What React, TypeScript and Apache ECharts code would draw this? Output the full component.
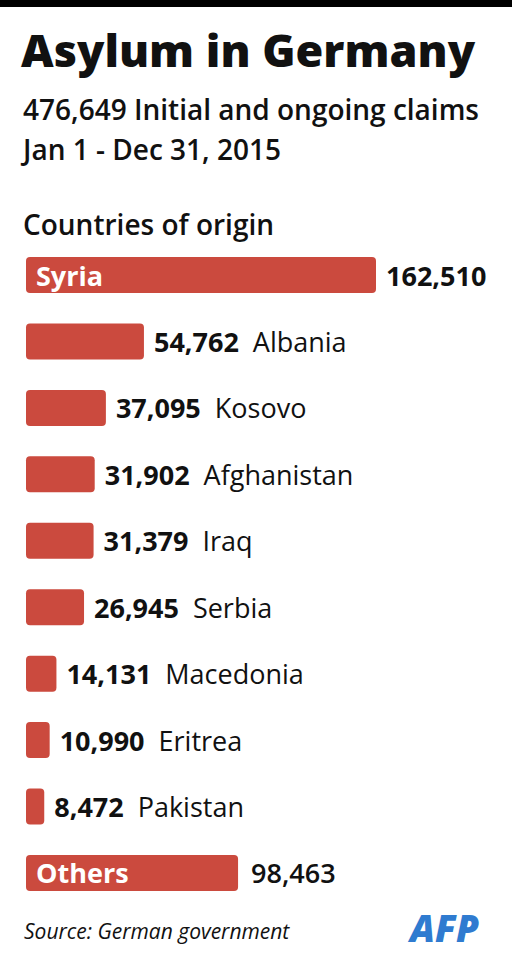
import React, { useEffect, useRef } from "react";
import * as echarts from "echarts";

const countries = ["Syria", "Albania", "Kosovo", "Afghanistan", "Iraq", "Serbia", "Macedonia", "Eritrea", "Pakistan", "Others"];
const claims = [162510, 54762, 37095, 31902, 31379, 26945, 14131, 10990, 8472, 98463];
const insideNamed = ["Syria", "Others"];

const FONT = "Open Sans";
const RED = "#cb4a3e";
const LS = 27;

const fmt = (v: number) => v.toLocaleString("en-US");

export default function App() {
  const ref = useRef<HTMLDivElement>(null);
  useEffect(() => {
    if (!ref.current) return;
    const chart = echarts.init(ref.current, undefined, { renderer: "svg" });
    chart.setOption({
      animation: false,
      backgroundColor: "#ffffff",
      grid: { left: 26, top: 241.8, width: 350, height: 664.4, containLabel: false },
      xAxis: { type: "value", min: 0, max: 162510, show: false },
      yAxis: { type: "category", data: countries, inverse: true, show: false },
      series: [
        {
          type: "bar",
          data: claims,
          barWidth: 36,
          itemStyle: { color: RED, borderRadius: 4 },
          label: {
            show: true,
            position: "right",
            distance: 10,
            formatter: (p: any) => {
              const name = countries[p.dataIndex];
              if (insideNamed.includes(name)) {
                return name === "Syria" ? `{vb|${fmt(p.value)}}` : `{vm|${fmt(p.value)}}`;
              }
              return `{v|${fmt(p.value)}}{n|${name}}`;
            },
            rich: {
              v: { fontFamily: FONT, fontWeight: "bold", fontSize: LS, color: "#111" },
              vb: { fontFamily: FONT, fontWeight: "bold", fontSize: LS, color: "#111" },
              vm: { fontFamily: FONT, fontWeight: 600, fontSize: LS, color: "#111", padding: [0, 0, 0, 3] },
              n: { fontFamily: FONT, fontWeight: "normal", fontSize: LS, color: "#111", padding: [0, 0, 0, 14] },
            },
          },
        },
        {
          type: "bar",
          data: claims,
          barWidth: 36,
          barGap: "-100%",
          silent: true,
          itemStyle: { color: "rgba(0,0,0,0)" },
          label: {
            show: true,
            position: "insideLeft",
            distance: 10,
            formatter: (p: any) => {
              const name = countries[p.dataIndex];
              return insideNamed.includes(name) ? name : "";
            },
            fontFamily: FONT,
            fontWeight: "bold",
            fontSize: LS,
            color: "#ffffff",
          },
        },
      ],
      graphic: [
        { type: "rect", left: 0, top: 0, shape: { width: 512, height: 7 }, style: { fill: "#000" } },
        {
          type: "text", left: 21, top: 27,
          style: { text: "Asylum in Germany", fontFamily: FONT, fontWeight: 800, fontSize: 45, fill: "#111" },
        },
        {
          type: "text", left: 23, top: 95,
          style: { text: "476,649 Initial and ongoing claims", fontFamily: FONT, fontWeight: 600, fontSize: 28, fill: "#111" },
        },
        {
          type: "text", left: 23, top: 135,
          style: { text: "Jan 1 - Dec 31, 2015", fontFamily: FONT, fontWeight: 600, fontSize: 28, fill: "#111" },
        },
        {
          type: "text", left: 23, top: 210,
          style: { text: "Countries of origin", fontFamily: FONT, fontWeight: 600, fontSize: 28, fill: "#111" },
        },
        {
          type: "text", left: 24, top: 920,
          style: { text: "Source: German government", fontFamily: FONT, fontStyle: "italic", fontSize: 21, fill: "#111" },
        },
        {
          type: "text", left: 410, top: 909,
          style: { text: "AFP", fontFamily: FONT, fontStyle: "italic", fontWeight: 800, fontSize: 37, fill: "#2f7bd0" },
        },
      ],
    });
    return () => chart.dispose();
  }, []);
  return (
    <div
      ref={ref}
      style={{ position: "fixed", left: 0, top: 0, width: 512, height: 964, background: "#fff" }}
    />
  );
}
